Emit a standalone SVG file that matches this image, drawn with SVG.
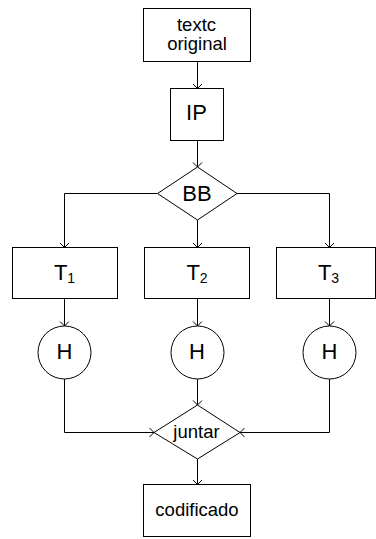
<svg xmlns="http://www.w3.org/2000/svg" width="376" height="539" viewBox="0 0 376 539">
<style>
.box{fill:#fff;stroke:#000;stroke-width:1}
.ln{fill:none;stroke:#000;stroke-width:1}
.t{font-family:"Liberation Sans",Arial,sans-serif;fill:#000;text-anchor:middle}
.lc{font-size:18.5px}
.uc{font-size:22px}
</style>
<defs>
<marker id="arr" markerUnits="userSpaceOnUse" markerWidth="12" markerHeight="12" refX="0" refY="0" viewBox="-6 -6 12 12" orient="auto" overflow="visible">
<path d="M-4.5,-4.5 L0,0 L-4.5,4.5" fill="none" stroke="#000" stroke-width="1"/>
</marker>
</defs>
<rect width="376" height="539" fill="#fff"/>
<g id="connectors">
<path class="ln" d="M197.5,61.5 V88.5" marker-end="url(#arr)"/>
<path class="ln" d="M197.5,140.5 V167" marker-end="url(#arr)"/>
<path class="ln" d="M157.5,193.5 H64.5 V247.5" marker-end="url(#arr)"/>
<path class="ln" d="M197.5,220 V247.5" marker-end="url(#arr)"/>
<path class="ln" d="M236.5,193.5 H329.5 V247.5" marker-end="url(#arr)"/>
<path class="ln" d="M64.5,298.5 V326" marker-end="url(#arr)"/>
<path class="ln" d="M197.5,298.5 V326" marker-end="url(#arr)"/>
<path class="ln" d="M329.5,298.5 V326" marker-end="url(#arr)"/>
<path class="ln" d="M64.5,379 V432.5 H154" marker-end="url(#arr)"/>
<path class="ln" d="M197.5,379 V405" marker-end="url(#arr)"/>
<path class="ln" d="M329.5,379 V432.5 H240" marker-end="url(#arr)"/>
<path class="ln" d="M197.5,459 V484.5" marker-end="url(#arr)"/>
</g>
<g id="texto">
<rect class="box" x="143.5" y="8.5" width="107" height="53"/>
<text class="t lc" x="196.5" y="31">textc</text>
<text class="t lc" x="197" y="50">original</text>
</g>
<g id="ip">
<rect class="box" x="170.5" y="88.5" width="53" height="52"/>
<text class="t uc" x="196.5" y="119.5">IP</text>
</g>
<g id="bb">
<polygon class="box" points="197.5,167 237,193.5 197.5,220 157.5,193.5"/>
<text class="t uc" x="197" y="200.5">BB</text>
</g>
<g id="t1">
<rect class="box" x="12.5" y="247.5" width="105" height="51"/>
<text class="t uc" x="64.5" y="279.5">T<tspan font-size="14" dy="3">1</tspan></text>
</g>
<g id="t2">
<rect class="box" x="144.5" y="247.5" width="105" height="51"/>
<text class="t uc" x="197" y="279.5">T<tspan font-size="14" dy="3">2</tspan></text>
</g>
<g id="t3">
<rect class="box" x="276.5" y="247.5" width="99" height="51"/>
<text class="t uc" x="328.5" y="279.5">T<tspan font-size="14" dy="3">3</tspan></text>
</g>
<g id="h1">
<circle class="box" cx="64.5" cy="352.5" r="26.5"/>
<text class="t uc" x="64.5" y="358.5">H</text>
</g>
<g id="h2">
<circle class="box" cx="197.5" cy="352.5" r="26.5"/>
<text class="t uc" x="197" y="358.5">H</text>
</g>
<g id="h3">
<circle class="box" cx="329.5" cy="352.5" r="26.5"/>
<text class="t uc" x="329.5" y="358.5">H</text>
</g>
<g id="juntar">
<polygon class="box" points="197.5,405 240,432.5 197.5,459 154,432.5"/>
<text class="t lc" x="196.5" y="437.5">juntar</text>
</g>
<g id="codificado">
<rect class="box" x="143.5" y="484.5" width="107" height="52"/>
<text class="t lc" x="197" y="515.5">codificado</text>
</g>
</svg>
